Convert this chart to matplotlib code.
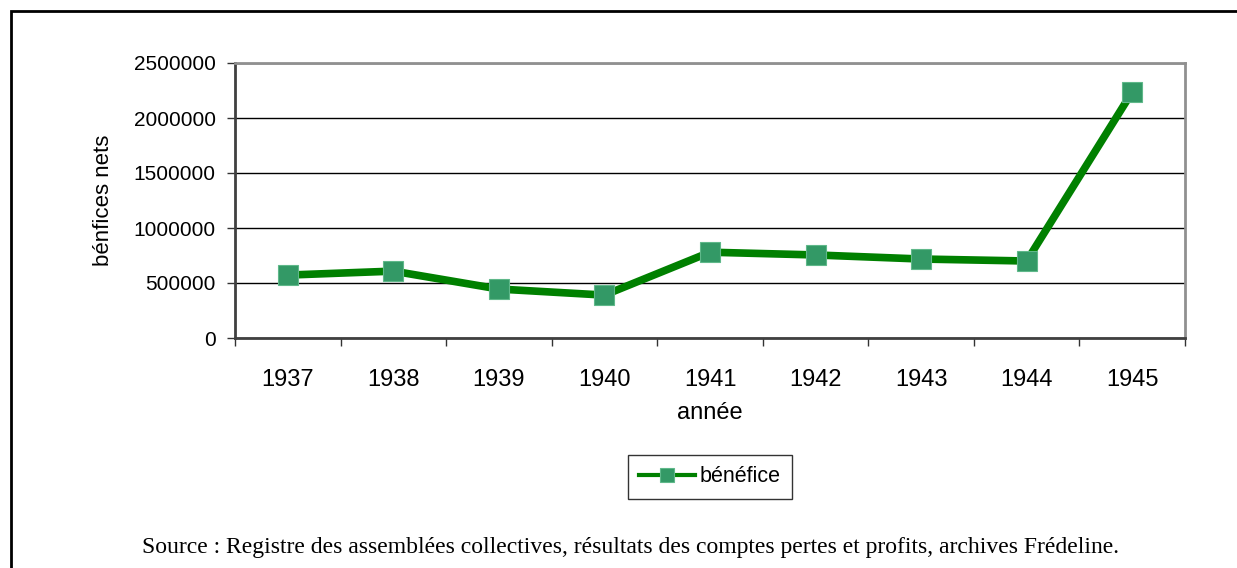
import matplotlib
matplotlib.use('Agg')
import matplotlib.pyplot as plt
from matplotlib.patches import Rectangle

# data
years = ['1937', '1938', '1939', '1940', '1941', '1942', '1943', '1944', '1945']
benefice = [572000, 608000, 445000, 390000, 780000, 755000, 718000, 700000, 2237000]
y_ticks = [0, 500000, 1000000, 1500000, 2000000, 2500000]

plt.rcParams['font.family'] = ['Liberation Sans', 'DejaVu Sans']

fig = plt.figure(figsize=(12.37, 5.68), dpi=100)
ax = fig.add_axes([235 / 1237, 1 - 338 / 568, 950 / 1237, 275 / 568])

# outer frame (runs off the right and bottom edges)
fig.patches.append(Rectangle((11 / 1237, -0.1), 1.2, 1 - 11 / 568 + 0.1,
                             transform=fig.transFigure, fill=False,
                             edgecolor='black', linewidth=2))

x = list(range(len(years)))
ax.plot(x, benefice, color='#008000', linewidth=5.5, marker='s', markersize=14,
        markerfacecolor='#339966', markeredgecolor='#5fb88a', markeredgewidth=0.8,
        label='bénéfice', zorder=3)

ax.set_xlim(-0.5, len(years) - 0.5)
ax.set_ylim(0, 2500000)
ax.set_yticks(y_ticks)
ax.set_yticklabels([str(v) for v in y_ticks])
ax.set_xticks([i - 0.5 for i in range(len(years) + 1)])
ax.set_xticklabels([])
ax.set_xticks(x, minor=True)
ax.set_xticklabels(years, minor=True)
ax.tick_params(axis='x', which='minor', length=0, pad=22, labelsize=17)
ax.tick_params(axis='x', which='major', length=6, width=1, color='#333333', direction='out')
ax.tick_params(axis='y', length=6, width=1, color='#333333', direction='out', labelsize=15, pad=8)

ax.grid(axis='y', color='black', linewidth=1)
ax.set_axisbelow(True)
for side in ['top', 'right']:
    ax.spines[side].set_color('#909090')
    ax.spines[side].set_linewidth(2)
ax.spines['left'].set_color('#404040')
ax.spines['left'].set_linewidth(2)
ax.spines['bottom'].set_color('#404040')
ax.spines['bottom'].set_linewidth(2)

ax.set_xlabel('année', fontsize=17, labelpad=8)
ax.set_ylabel('bénfices nets', fontsize=16, labelpad=14)

leg = fig.legend(loc='center', bbox_to_anchor=(710 / 1237, 1 - 477 / 568), fontsize=15.5,
                 frameon=True, fancybox=False, edgecolor='black', handlelength=2.6,
                 borderpad=0.55, handletextpad=0.2, markerscale=0.7)
leg.get_frame().set_linewidth(1)
for ln in leg.get_lines():
    ln.set_linewidth(3)

fig.text(631 / 1237, 1 - 548 / 568,
         'Source : Registre des assemblées collectives, résultats des comptes pertes et profits, archives Frédeline.',
         ha='center', va='center', fontsize=17, family=['Liberation Serif', 'DejaVu Serif'])

fig.savefig('out.png', dpi=100)
